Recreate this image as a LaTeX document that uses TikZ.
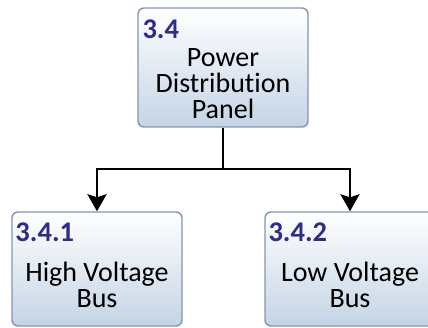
\documentclass[tikz,border=0pt]{standalone}
\usepackage{fontspec}
\setmainfont{Carlito}[Ligatures=NoCommon]
\usetikzlibrary{arrows.meta}
\definecolor{boxline}{HTML}{8496AD}
\definecolor{boxbot}{HTML}{C4D4E5}
\definecolor{numblue}{HTML}{2E2C86}

\begin{document}
\begin{tikzpicture}[x=1pt,y=-1pt,
  wbsbox/.style={draw=boxline,line width=1.4pt,rounded corners=6pt,top color=white,bottom color=boxbot,minimum width=170pt,inner sep=0pt},
  wbsnum/.style={anchor=north west,inner sep=0pt,text=numblue,font=\bfseries\fontsize{28.5}{28}\selectfont},
  wbstext/.style={align=center,inner sep=0pt,font=\fontsize{28}{26}\selectfont},
  wbsarrow/.style={line width=2.6pt,-{Stealth[length=17pt,width=19pt,inset=3pt]}}]
\path[use as bounding box] (0,0) rectangle (428,328);
\node[wbsbox,minimum height=119pt] (p34) at (223,67.5) {};
\node[wbsbox,minimum height=114pt] (p341) at (97,269) {};
\node[wbsbox,minimum height=114pt] (p342) at (350,269) {};
\node[wbsnum] (n34) at ([xshift=5pt,yshift=-12pt]p34.north west) {3.4};
\node[wbsnum] (n341) at ([xshift=4pt,yshift=-11pt]p341.north west) {3.4.1};
\node[wbsnum] (n342) at ([xshift=4pt,yshift=-11pt]p342.north west) {3.4.2};
\node[wbstext] (t34) at ([yshift=-16pt]p34.center) {Power\\Distribution\\Panel};
\node[wbstext] (t341) at ([yshift=-16pt]p341.center) {High Voltage\\Bus};
\node[wbstext] (t342) at ([yshift=-16pt]p342.center) {Low Voltage\\Bus};
\coordinate (split) at (223,169);
\draw[line width=2.6pt] (p34.south) -- (split);
\draw[wbsarrow] (split) -| (p341.north);
\draw[wbsarrow] (split) -| (p342.north);
\end{tikzpicture}
\end{document}
